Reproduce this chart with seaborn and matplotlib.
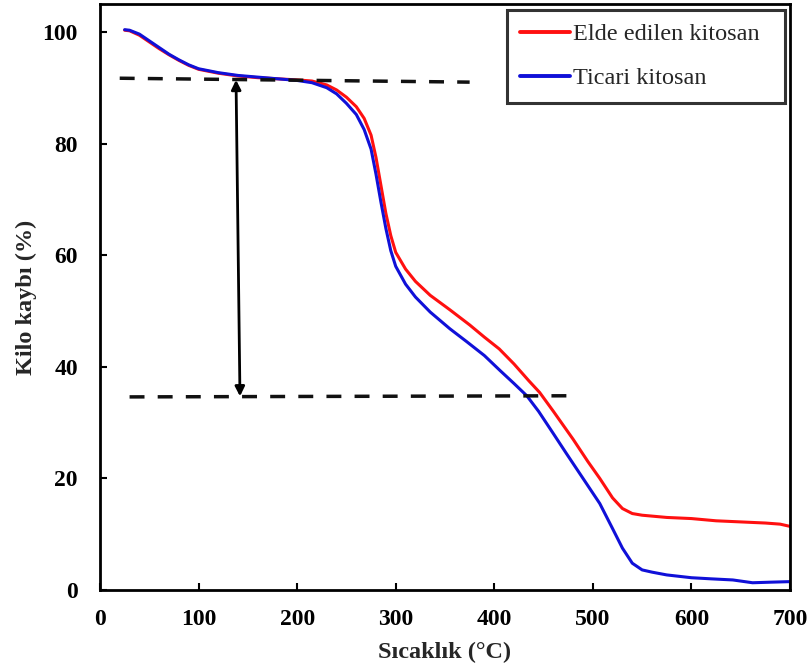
import numpy as np
import pandas as pd
import matplotlib
matplotlib.use("Agg")
import matplotlib.pyplot as plt
import seaborn as sns

# ---- data ----
temp_red = [25, 30, 40, 50, 60, 70, 80, 90, 100, 120, 140, 160, 180, 200, 215, 230, 240, 250,
            260, 268, 275, 280, 285, 290, 295, 300, 310, 320, 335, 355, 375, 390, 405, 420,
            435, 446, 460, 480, 495, 507, 520, 530, 540, 550, 575, 600, 625, 650, 675, 690, 700]
mass_red = [100.3, 100.2, 99.4, 98.2, 97.0, 95.9, 94.9, 94.0, 93.3, 92.6, 92.1, 91.8, 91.6, 91.4,
            91.2, 90.5, 89.6, 88.3, 86.6, 84.5, 81.5, 77.5, 72.5, 67.5, 63.5, 60.5, 57.5, 55.3,
            52.8, 50.2, 47.5, 45.3, 43.2, 40.5, 37.5, 35.4, 32.0, 27.0, 23.0, 20.0, 16.5, 14.6,
            13.7, 13.4, 13.0, 12.8, 12.4, 12.2, 12.0, 11.8, 11.4]

temp_blue = [25, 30, 40, 50, 60, 70, 80, 90, 100, 120, 140, 160, 180, 200, 215, 230, 240, 250,
             260, 268, 275, 280, 285, 290, 295, 300, 310, 320, 335, 355, 372, 390, 406, 420,
             433, 445, 460, 473, 490, 507, 520, 530, 540, 550, 560, 575, 600, 620, 642, 662, 680, 700]
mass_blue = [100.4, 100.3, 99.6, 98.4, 97.2, 96.0, 95.0, 94.1, 93.4, 92.7, 92.2, 91.9, 91.6, 91.3,
             90.9, 90.0, 88.9, 87.2, 85.2, 82.5, 79.0, 74.5, 69.5, 64.8, 60.8, 58.0, 54.8, 52.5,
             49.8, 46.8, 44.5, 42.0, 39.3, 37.0, 34.8, 32.0, 28.0, 24.5, 20.0, 15.5, 11.0, 7.5,
             4.8, 3.6, 3.2, 2.7, 2.2, 2.0, 1.8, 1.3, 1.4, 1.5]

series_names = ["Elde edilen kitosan", "Ticari kitosan"]
series_colors = ["#ff1010", "#1010d8"]

# reference guide lines
upper_dash_x = [20, 375]
upper_dash_y = [91.7, 91.0]
lower_dash_x = [30, 474]
lower_dash_y = [34.6, 34.8]
arrow_top = (138, 91.4)
arrow_bottom = (142, 34.7)

x_ticks = [0, 100, 200, 300, 400, 500, 600, 700]
y_ticks = [0, 20, 40, 60, 80, 100]

df = pd.concat([
    pd.DataFrame({"T": temp_red, "W": mass_red, "s": series_names[0]}),
    pd.DataFrame({"T": temp_blue, "W": mass_blue, "s": series_names[1]}),
])

sns.set_style("white")
plt.rcParams["font.family"] = ["Liberation Serif", "DejaVu Serif"]

fig = plt.figure(figsize=(8.11, 6.69), dpi=100)
ax = fig.add_axes([100 / 811, 79 / 669, 690 / 811, 586 / 669])

sns.lineplot(data=df, x="T", y="W", hue="s", palette=series_colors,
             hue_order=series_names, linewidth=2.2, ax=ax, sort=False)

ax.plot(upper_dash_x, upper_dash_y, color="#111111", lw=2.5, dashes=(4.3, 3.8))
ax.plot(lower_dash_x, lower_dash_y, color="#111111", lw=2.5, dashes=(4.3, 3.8))
ax.annotate("", xy=arrow_top, xytext=arrow_bottom,
            arrowprops=dict(arrowstyle="<|-|>", color="black", lw=2,
                            mutation_scale=14, shrinkA=0, shrinkB=0))

ax.set_xlim(0, 700)
ax.set_ylim(0, 105)
ax.set_xticks(x_ticks)
ax.set_yticks(y_ticks)
ax.tick_params(direction="in", length=5, width=1.5, colors="black",
               labelsize=17, bottom=True, left=True)
ax.tick_params(axis="x", pad=14)
ax.tick_params(axis="y", pad=16)
for lab in ax.get_xticklabels() + ax.get_yticklabels():
    lab.set_fontweight("bold")

for sp in ax.spines.values():
    sp.set_visible(True)
    sp.set_color("black")
    sp.set_linewidth(2)

ax.set_xlabel("Sıcaklık (°C)", fontsize=17.5, fontweight="bold", labelpad=8)
ax.set_ylabel("Kilo kaybı (%)", fontsize=17.5, fontweight="bold", labelpad=4)

x0 = (507 - 100) / 690
w = (785 - 507) / 690
top = (590 - 10) / 586
leg = ax.legend(loc="upper left", bbox_to_anchor=(x0, top - 0.2, w, 0.2), mode="expand",
                borderaxespad=0, fancybox=False, frameon=True, fontsize=17.5,
                handlelength=2.05, handletextpad=0.12, labelspacing=0.9,
                borderpad=0.55, title=None)
leg.get_frame().set_edgecolor("black")
leg.get_frame().set_linewidth(2.2)
for h in leg.get_lines():
    h.set_linewidth(2.8)

fig.savefig("out.png", dpi=100)
